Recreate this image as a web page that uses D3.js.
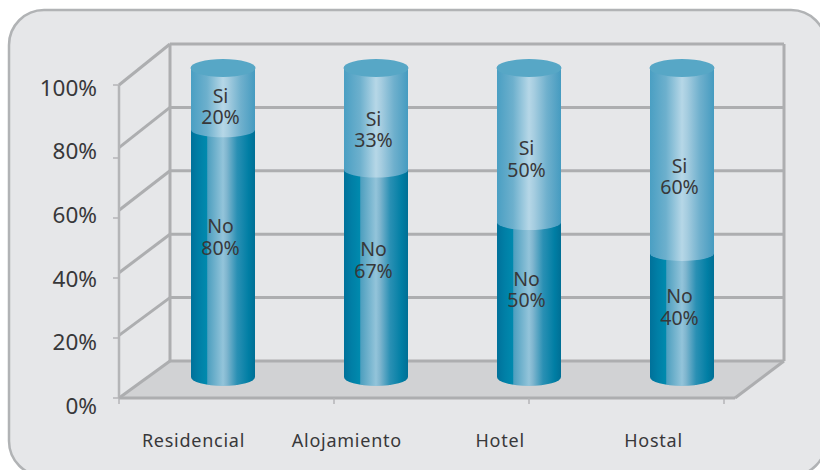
<!DOCTYPE html>
<html>
<head>
<meta charset="utf-8">
<script src="https://cdn.jsdelivr.net/npm/d3@7"></script>
<style>
  html, body { margin: 0; padding: 0; background: #fff; }
  svg { display: block; }
  text { font-family: "Noto Sans", sans-serif; fill: #38383a; }
</style>
</head>
<body>
<svg id="chart" width="820" height="470"></svg>
<script>
// Survey shares per type of lodging
const categories = ["Residencial", "Alojamiento", "Hotel", "Hostal"];
const noValues = [80, 67, 50, 40];
const siValues = [20, 33, 50, 60];
const gridLevels = [0, 20, 40, 60, 80, 100];

const svg = d3.select("#chart");

// Frame of the 3D box: front plane and back wall
const frontLeft = 119, frontRight = 735, backLeft = 170, backRight = 784;
const frontY = d3.scaleLinear().domain([0, 100]).range([398, 85]);
const backY = d3.scaleLinear().domain([0, 100]).range([361, 44]);
const tickY = d3.scaleLinear().domain([0, 80, 100]).range([398, 158, 85]);
const labelY = d3.scaleLinear().domain([0, 100]).range([406, 88]);

// Cylinders
const cylX = d3.scalePoint().domain(categories).range([223, 682]);
const cylY = d3.scaleLinear().domain([0, 100]).range([377, 68]);
const rx = 32, ryTop = 9, ryBand = 7.5, ryBase = 9;
// Each label sits a fixed share of the way along its segment, measured from the cylinder end
const labelShare = 0.565;
const catLabelX = d3.scalePoint().domain(categories).range([193, 653]);
const catTickX = d3.scaleLinear().domain([1, 3]).range([334, 724]);

// Cylinder shading, left to right
const defs = svg.append("defs");
function shade(id, stops) {
  const g = defs.append("linearGradient").attr("id", id)
    .attr("x1", 0).attr("x2", 1).attr("y1", 0).attr("y2", 0);
  stops.forEach(([o, c]) => g.append("stop").attr("offset", o).attr("stop-color", c));
}
shade("shadeNo", [[0, "#00719a"], [0.12, "#007fa6"], [0.25, "#008aae"], [0.26, "#4d9fbf"],
  [0.5, "#93c4da"], [0.56, "#80b6cf"], [0.72, "#2a90b4"], [0.9, "#007ea4"], [1, "#006f95"]]);
shade("shadeSi", [[0, "#4a9fc3"], [0.25, "#6db0cd"], [0.5, "#b6d7e7"], [0.58, "#a6cde0"],
  [0.78, "#6fb0cd"], [1, "#459bc0"]]);

// Panel
svg.append("rect").attr("x", 9).attr("y", 10).attr("width", 817).attr("height", 466)
  .attr("rx", 35).attr("ry", 35)
  .attr("fill", "#e6e7e9").attr("stroke", "#b1b3b5").attr("stroke-width", 2.5);

// Floor
svg.append("polygon")
  .attr("points", [[frontLeft, frontY(0)], [frontRight, frontY(0)], [backRight, backY(0)], [backLeft, backY(0)]].join(" "))
  .attr("fill", "#d1d2d4");

const gridColor = "#adaeb0";
const line = (x1, y1, x2, y2, w, c = gridColor) => svg.append("line")
  .attr("x1", x1).attr("y1", y1).attr("x2", x2).attr("y2", y2)
  .attr("stroke", c).attr("stroke-width", w);

// Back wall and side wall lines
gridLevels.forEach(v => {
  line(backLeft, backY(v), backRight, backY(v), 3);
  line(frontLeft, frontY(v), backLeft, backY(v), 3);
});
line(backLeft, backY(0), backLeft, backY(100), 3);
line(backRight, backY(0), backRight, backY(100), 3);
line(frontLeft, frontY(0), frontLeft, frontY(100), 2.5, "#b4b5b7");
line(frontLeft, frontY(0), frontRight, frontY(0), 3);
line(frontRight, frontY(0), backRight, backY(0), 3);

// Axis tick marks
gridLevels.forEach(v => line(frontLeft - 6, tickY(v), frontLeft, tickY(v), 1.5, "#b4b5b7"));
line(frontLeft, frontY(0), frontLeft, frontY(0) + 6, 1.5, "#b4b5b7");
categories.slice(1).forEach((c, i) => line(catTickX(i + 1), frontY(0), catTickX(i + 1), frontY(0) + 6, 1.5, "#b4b5b7"));

// Cylinders: lower segment first, upper segment overlaps it with its curved edge
categories.forEach((c, i) => {
  const cx = cylX(c), l = cx - rx, r = cx + rx;
  const yBase = cylY(0), yBand = cylY(noValues[i]), yTop = cylY(100);

  svg.append("path")
    .attr("d", `M${l},${yBand - ryBand}L${l},${yBase}A${rx},${ryBase} 0 0 0 ${r},${yBase}L${r},${yBand - ryBand}Z`)
    .attr("fill", "url(#shadeNo)");
  svg.append("path")
    .attr("d", `M${l},${yTop}L${l},${yBand}A${rx},${ryBand} 0 0 0 ${r},${yBand}L${r},${yTop}Z`)
    .attr("fill", "url(#shadeSi)");
  svg.append("ellipse").attr("cx", cx).attr("cy", yTop).attr("rx", rx + 0.5).attr("ry", ryTop)
    .attr("fill", "#57a7c6");

  const segmentLabel = (name, value, y) => {
    const t = svg.append("text").attr("text-anchor", "middle").attr("font-size", 19.5);
    t.append("tspan").attr("x", cx - 2.5).attr("y", y - 4).text(name);
    t.append("tspan").attr("x", cx - 2.5).attr("y", y + 17.5).text(value + "%");
  };
  segmentLabel("Si", siValues[i], yTop + (yBand - yTop) * labelShare + 4);
  segmentLabel("No", noValues[i], yBase - (yBase - yBand) * labelShare);
});

// Value axis labels
const yAxis = svg.append("g").attr("transform", "translate(97,0)")
  .call(d3.axisLeft(labelY).tickValues(gridLevels).tickSize(0).tickPadding(0).tickFormat(d => d + "%"));
yAxis.select(".domain").remove();
yAxis.selectAll("text").attr("font-size", 22.5).style("font-family", "'Noto Sans', sans-serif").attr("fill", "#38383a");

// Category labels
const xAxis = svg.append("g").attr("transform", "translate(0,434)")
  .call(d3.axisBottom(catLabelX).tickSize(0).tickPadding(0));
xAxis.select(".domain").remove();
xAxis.selectAll("text").attr("font-size", 18).style("font-family", "'Noto Sans', sans-serif")
  .style("letter-spacing", "0.75px").attr("fill", "#38383a");
</script>
</body>
</html>
